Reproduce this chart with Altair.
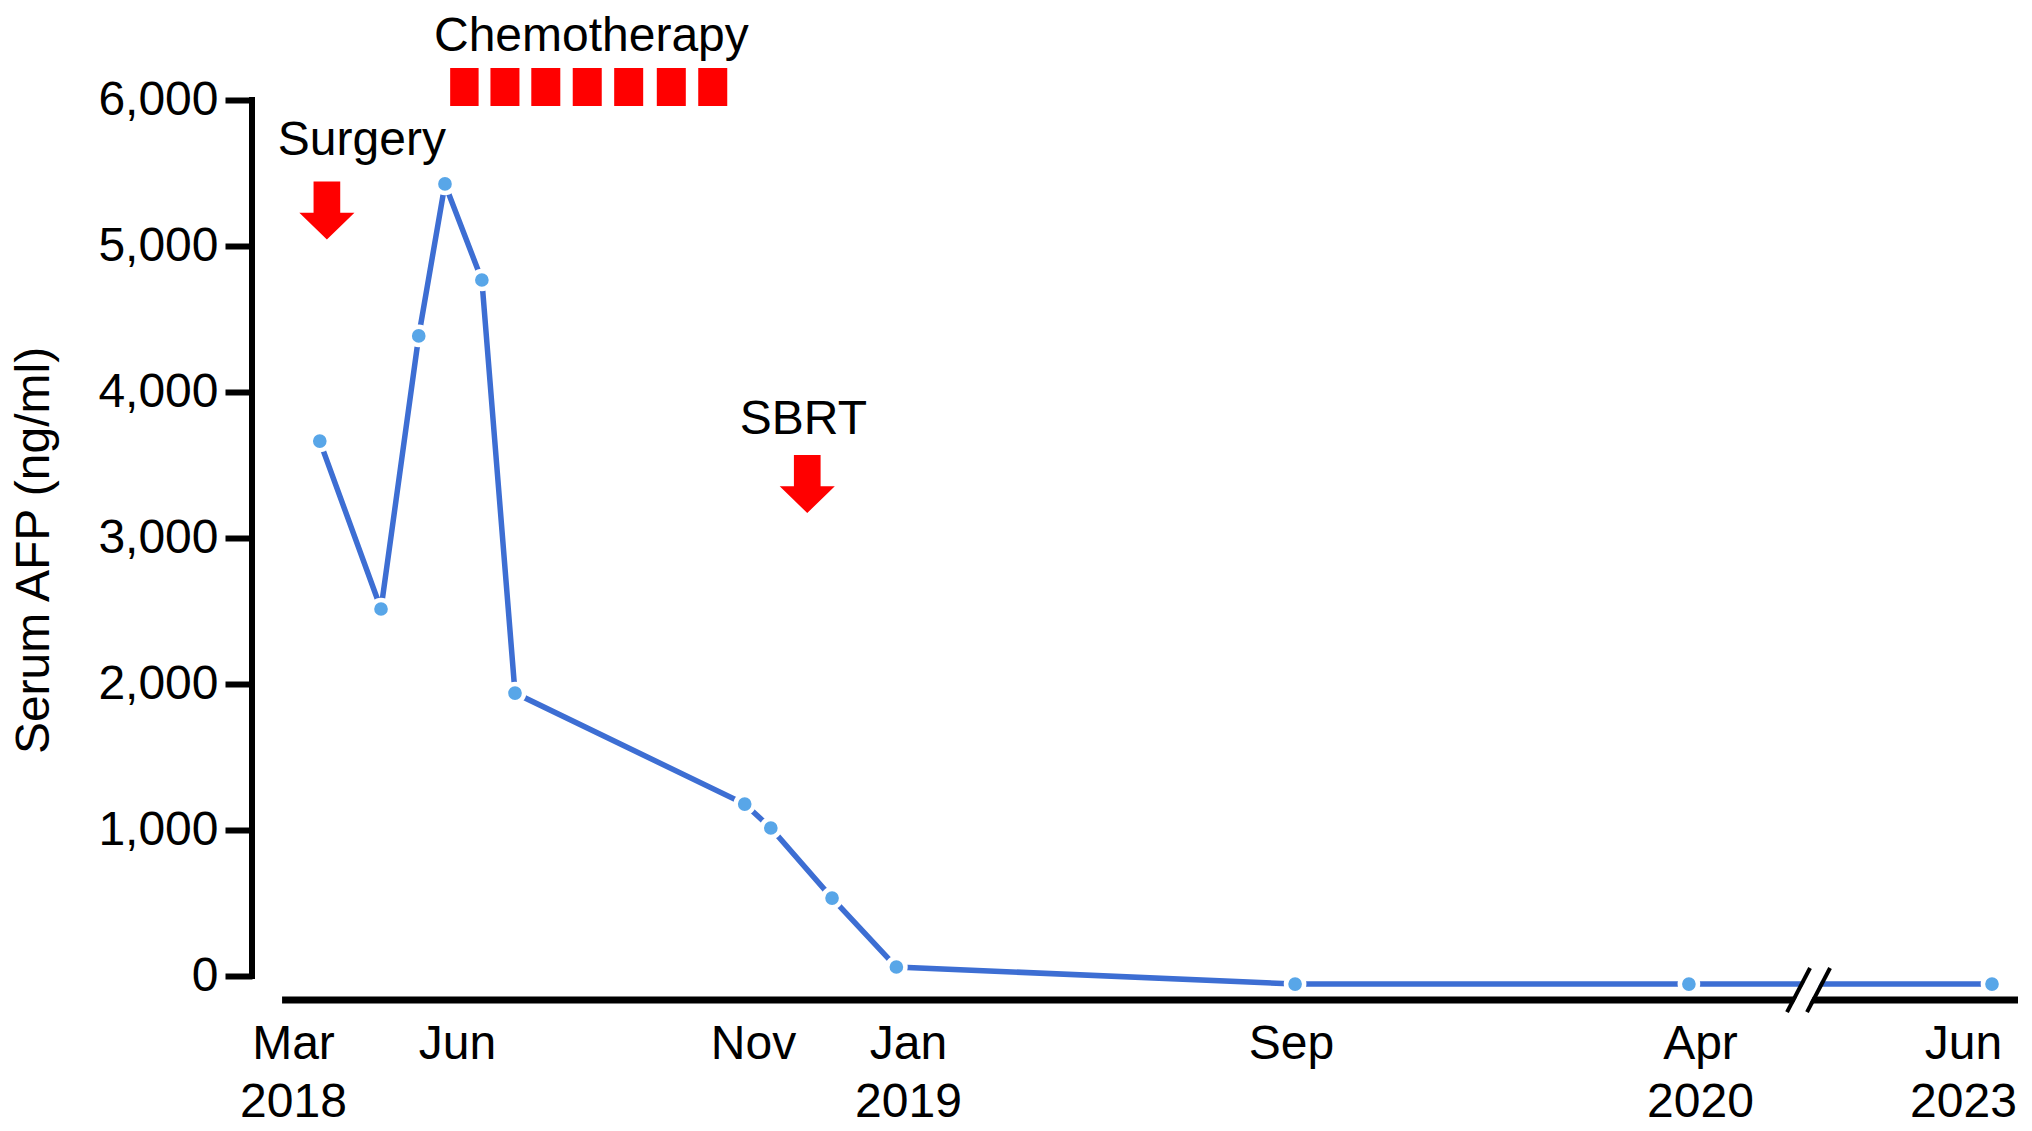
import altair as alt
import pandas as pd

FONT = "Liberation Sans"

# Serum AFP measurements: time in months since 1 Jan 2018, value in ng/ml
month_pos = [2.49, 3.61, 4.30, 4.78, 5.42, 5.98, 9.86, 10.23, 11.02, 11.85, 20.07, 26.81, 65.58]
afp = [3664, 2514, 4384, 5425, 4767, 1938, 1178, 1014, 534, 62, -55, -55, -55]

# chemotherapy cycles (centre of each cycle, months since 1 Jan 2018)
chemo_cycles = [5.12, 5.81, 6.50, 7.20, 7.90, 8.62, 9.32]

# x tick labels
tick_months = [2, 5, 10, 12, 20, 27, 65]
tick_month_names = ["Mar", "Jun", "Nov", "Jan", "Sep", "Apr", "Jun"]
tick_years = ["2018", "", "", "2019", "", "2020", "2023"]

# y ticks
y_ticks = [0, 1000, 2000, 3000, 4000, 5000, 6000]

# annotation texts
note_texts = ["Chemotherapy", "Surgery", "SBRT"]
note_months = [7.27, 3.26, 10.65]
note_values = [6335, 5623, 3712]

# treatment arrows
arrow_months = [2.62, 10.70]
arrow_values = [5243, 3370]

# broken-axis scale (piecewise: compressed gap between 2020 and 2023)
x_domain = [1.25, 2, 5, 10, 12, 20, 27, 65, 66.1]
x_range = [0, 41, 205, 501, 656, 1039, 1448, 1711, 1766]
W, H = 1766, 900

xscale = alt.Scale(domain=x_domain, range=x_range, nice=False, zero=False)
yscale = alt.Scale(domain=[-164, 6000], nice=False, zero=False)

parts = []
for m, name, yr in zip(tick_months, tick_month_names, tick_years):
    lab = f"['{name}','{yr}']" if yr else f"'{name}'"
    parts.append(f"datum.value == {m} ? {lab}")
label_expr = " : ".join(parts) + " : ''"

df = pd.DataFrame({"m": month_pos, "afp": afp})
chemo = pd.DataFrame({"c": chemo_cycles})
notes = pd.DataFrame({"t": note_texts, "m": note_months, "v": note_values})
arrows = pd.DataFrame({"m": arrow_months, "v": arrow_values})

LINE = "#3D6ED3"
PT = "#58A6E8"
RED = "#FF0000"

xaxis = alt.Axis(values=tick_months, labelExpr=label_expr, domain=False, ticks=False, grid=False,
                 labelFontSize=48, labelFont=FONT, labelColor="black", labelPadding=20,
                 labelLineHeight=58, labelFlush=False, labelOverlap=False, labelBound=False,
                 title=None)
yaxis = alt.Axis(values=y_ticks, format=",.0f", domain=False, grid=False, tickSize=27, tickWidth=6,
                 tickColor="black", labelFontSize=48, labelFont=FONT, labelColor="black",
                 labelPadding=7, title="Serum AFP (ng/ml)", titleFontSize=48, titleFont=FONT,
                 titleFontWeight="normal", titleColor="black", titlePadding=39)

line = alt.Chart(df).mark_line(color=LINE, strokeWidth=5.5).encode(
    x=alt.X("m:Q", scale=xscale, axis=xaxis),
    y=alt.Y("afp:Q", scale=yscale, axis=yaxis),
)

points = alt.Chart(df).mark_point(filled=True, fill=PT, stroke="white", strokeWidth=4.5,
                                  size=330, opacity=1).encode(
    x=alt.X("m:Q", scale=xscale),
    y=alt.Y("afp:Q", scale=yscale),
)

one = pd.DataFrame({"k": [0]})
y_axis_line = alt.Chart(one).mark_rule(color="black", strokeWidth=6, strokeCap="square").encode(
    x=alt.value(0), y=alt.Y(datum=0, scale=yscale), y2=alt.Y2(datum=6000)
)
x_axis_line = alt.Chart(one).mark_rule(color="black", strokeWidth=7).encode(
    x=alt.X(datum=1.80, scale=xscale), x2=alt.X2(datum=66.1), y=alt.value(H)
)

chemo_blocks = alt.Chart(chemo).transform_calculate(
    c0="datum.c - 0.245", c1="datum.c + 0.245"
).mark_rect(color=RED).encode(
    x=alt.X("c0:Q", scale=xscale), x2="c1:Q",
    y=alt.Y(datum=5959, scale=yscale), y2=alt.Y2(datum=6219),
)

note_layer = alt.Chart(notes).mark_text(fontSize=48, font=FONT, color="black",
                                        align="center", baseline="alphabetic").encode(
    x=alt.X("m:Q", scale=xscale), y=alt.Y("v:Q", scale=yscale), text="t:N"
)

ARROW = "M-0.46,-1L0.46,-1L0.46,0.08L0.95,0.08L0,1L-0.95,0.08L-0.46,0.08Z"
arrow_layer = alt.Chart(arrows).mark_point(shape=ARROW, size=3364, filled=True, fill=RED,
                                           strokeWidth=0, opacity=1).encode(
    x=alt.X("m:Q", scale=xscale), y=alt.Y("v:Q", scale=yscale)
)

brk_white = pd.DataFrame({"x": [41.32], "x2": [43.73], "y": [-219], "y2": [0]})
brk_black = pd.DataFrame({"x": [39.57, 42.46], "x2": [42.90, 45.79], "y": [-247, -247], "y2": [55, 55]})
gap = alt.Chart(brk_white).mark_rule(color="white", strokeWidth=14).encode(
    x=alt.X("x:Q", scale=xscale), x2="x2:Q", y=alt.Y("y:Q", scale=yscale), y2="y2:Q"
)
slashes = alt.Chart(brk_black).mark_rule(color="black", strokeWidth=4).encode(
    x=alt.X("x:Q", scale=xscale), x2="x2:Q", y=alt.Y("y:Q", scale=yscale), y2="y2:Q"
)

chart = alt.layer(
    line, y_axis_line, x_axis_line, points, chemo_blocks, note_layer, arrow_layer, gap, slashes
).properties(
    width=W, height=H,
    autosize=alt.AutoSizeParams(type="none"),
    padding={"left": 244, "top": 92, "right": 6, "bottom": 129},
    background="white",
).configure_view(stroke=None)

chart.save("out.html", embed_options={"renderer": "svg", "actions": False})
